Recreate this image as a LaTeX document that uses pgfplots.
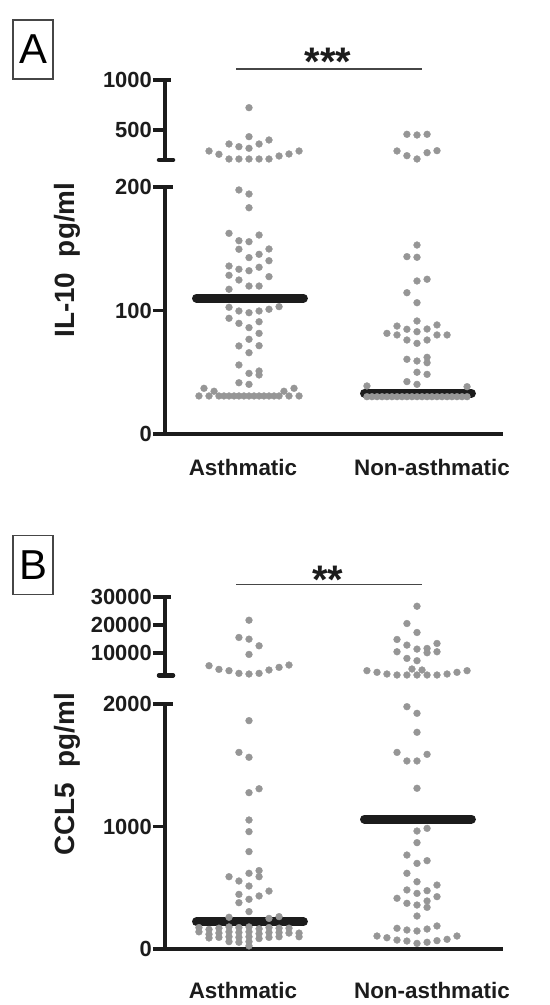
\documentclass[border=0pt]{standalone}
\usepackage{fontspec}
\setmainfont{Liberation Sans}
\usepackage{pgfplots}
\pgfplotsset{compat=1.18}
\definecolor{dotgray}{RGB}{150,150,150}
\definecolor{axblack}{RGB}{28,28,28}
\definecolor{boxgray}{RGB}{70,70,70}
\pgfplotsset{
  base/.style={
    x=168bp, xmin=0.5, xmax=2.51,
    anchor=south west,
    axis y line*=left,
    axis line style={-, line width=3.6bp, color=axblack},
    clip=false,
    tick align=outside,
    tick style={line width=3.6bp, color=axblack},
    major tick length=12bp,
    yticklabel style={font=\fontsize{22}{22}\selectfont\bfseries, inner sep=1bp, color=axblack},
    xticklabel style={font=\fontsize{22.5}{22.5}\selectfont\bfseries, color=axblack, anchor=base},
    x tick style={draw=none},
    /pgf/number format/assume math mode=true,
    scaled y ticks=false,
  },
  dots/.style={only marks, mark=*, mark size=3.4bp, color=dotgray, mark options={draw=none, fill=dotgray}},
  med/.style={line width=9bp, line cap=round, color=axblack, mark=none},
}
\begin{document}
\begin{tikzpicture}
\path[use as bounding box] (0,0) rectangle (550bp,1005bp);
% ---------- Panel letters ----------
\node[draw=boxgray, line width=1.2bp, minimum width=40bp, minimum height=59bp, inner sep=0pt,
      font=\fontsize{42}{42}\selectfont] at (33bp,955.5bp) {A};
\node[draw=boxgray, line width=1.2bp, minimum width=40bp, minimum height=59bp, inner sep=0pt,
      font=\fontsize{42}{42}\selectfont] at (33bp,440bp) {B};

% ================= Panel A, lower segment =================
\begin{axis}[base, at={(165bp,571bp)}, y=1.235bp, ymin=0, ymax=200,
  axis x line*=bottom,
  ytick={0,100,200}, yticklabels={0,100,200},
  xtick={0.964,2.089}, xticklabels={Asthmatic,Non-asthmatic},
  xticklabel style={yshift=-30bp},
  ylabel={IL-10\ \ pg/ml},
  ylabel style={at={(axis description cs:-0.29,0.704)}, anchor=center,
    font=\fontsize{28}{28}\selectfont\bfseries, color=axblack},
]
\addplot[dots] coordinates {
(0.940,197.6) (1.000,194.3) (1.000,183.2)
(0.881,162.5) (1.060,161.1) (0.940,156.5) (1.000,155.7)
(0.940,149.6) (1.119,149.8) (1.000,142.8) (1.060,145.5) (1.119,140.3)
(0.881,136.0) (0.940,133.4) (1.000,132.2) (1.060,135.0)
(0.881,128.5) (0.940,124.7) (1.000,119.8) (1.060,119.8) (1.119,127.4) (0.881,117.2)
(0.881,102.6) (0.940,99.6) (1.000,98.2) (1.060,99.6) (1.119,101.0) (1.179,103.1)
(0.881,93.7) (0.940,89.6) (1.000,86.1) (1.060,90.9) (1.060,81.5) (1.000,76.7)
(0.940,71.3) (1.060,71.5) (1.000,65.8) (0.940,55.9) (1.000,49.1) (1.060,51.0) (1.060,47.8)
(0.940,41.5) (1.000,40.2)
(0.702,30.8) (0.762,30.8) (0.821,30.8) (0.851,30.8) (0.881,30.8) (0.911,30.8) (0.940,30.8)
(0.970,30.8) (1.000,30.8) (1.030,30.8) (1.060,30.8) (1.089,30.8) (1.119,30.8) (1.149,30.8)
(1.179,30.8) (1.238,30.8) (1.298,30.8)
(0.732,37.0) (0.792,34.6) (1.208,34.6) (1.268,37.0)
};
\addplot[dots] coordinates {
(2.000,153.0) (1.940,143.6) (2.000,143.1) (2.000,123.9) (2.060,125.3) (1.940,114.4) (2.000,106.3)
(2.000,91.5) (1.881,87.4) (2.119,88.3) (1.821,81.5) (1.881,80.2) (1.940,84.8) (2.000,82.8)
(2.060,85.0) (2.119,80.2) (2.179,80.2)
(1.940,76.1) (2.000,73.4) (2.060,76.1)
(1.940,60.5) (2.000,59.1) (2.060,62.1) (2.060,57.7) (2.000,50.0) (2.060,48.3) (1.940,42.4) (2.000,40.2)
(1.702,38.9) (2.298,38.3)
(1.702,30.2) (1.732,30.2) (1.762,30.2) (1.792,30.2) (1.821,30.2) (1.851,30.2) (1.881,30.2)
(1.911,30.2) (1.940,30.2) (1.970,30.2) (2.000,30.2) (2.030,30.2) (2.060,30.2) (2.089,30.2)
(2.119,30.2) (2.149,30.2) (2.179,30.2) (2.208,30.2) (2.238,30.2) (2.268,30.2) (2.298,30.2)
};
\addplot[med] coordinates {(0.6875,110) (1.324,110)};
\addplot[med] coordinates {(1.6875,33) (2.324,33)};
\draw[line width=3.6bp, color=axblack] (axis cs:0.49,200) -- (axis cs:0.548,200);
\end{axis}

% ================= Panel A, upper segment =================
\begin{axis}[base, at={(165bp,845bp)}, y=0.1bp, ymin=200, ymax=1000,
  axis x line=none,
  ytick={500,1000}, yticklabels={500,1000},
]
\addplot[dots] coordinates {
(1.000,723) (1.000,433) (1.119,400) (0.881,360) (0.940,333) (1.000,317) (1.060,360)
(0.762,290) (0.821,257) (0.881,210) (0.940,210) (1.000,210) (1.060,210) (1.119,210)
(1.179,240) (1.238,260) (1.298,290)
};
\addplot[dots] coordinates {
(1.940,457) (2.000,450) (2.060,457) (1.881,290) (1.940,243) (2.000,210) (2.060,273) (2.119,293)
};
\draw[line width=4.4bp, line cap=round, color=axblack] (axis cs:0.464,200) -- (axis cs:0.548,200);
\draw[line width=3.6bp, color=axblack] (axis cs:0.49,1000) -- (axis cs:0.536,1000);
\draw[line width=1.4bp, color=boxgray] (axis cs:0.923,1110) -- (axis cs:2.03,1110);
\node[anchor=base, font=\fontsize{40}{40}\selectfont\bfseries, color=axblack, inner sep=0pt]
  at (axis cs:1.470,1045) {***};
\end{axis}

% ================= Panel B, lower segment =================
\begin{axis}[base, at={(165bp,56bp)}, y=0.1225bp, ymin=0, ymax=2000,
  axis x line*=bottom,
  ytick={0,1000,2000}, yticklabels={0,1000,2000},
  xtick={0.964,2.089}, xticklabels={Asthmatic,Non-asthmatic},
  xticklabel style={yshift=-37.5bp},
  ylabel={CCL5\ \ pg/ml},
  ylabel style={at={(axis description cs:-0.29,0.713)}, anchor=center,
    font=\fontsize{28}{28}\selectfont\bfseries, color=axblack},
]
\addplot[dots] coordinates {
(1.000,1864) (0.940,1605) (1.000,1565) (1.000,1276) (1.060,1308)
(1.000,1053) (1.000,958) (1.000,795)
(0.881,590) (0.940,555) (1.000,618) (1.060,640) (1.060,590)
(1.000,514) (0.940,446) (1.000,406) (1.060,433) (1.119,473) (0.940,378) (1.000,305)
(0.881,259) (1.119,250) (1.179,264)
(0.702,175) (0.702,140)
(0.762,160) (0.762,120) (0.762,90)
(0.821,170) (0.821,130) (0.821,95)
(0.881,180) (0.881,140) (0.881,100) (0.881,60)
(0.940,175) (0.940,135) (0.940,95) (0.940,55)
(1.000,180) (1.000,140) (1.000,100) (1.000,60) (1.000,25)
(1.060,165) (1.060,125) (1.060,85)
(1.119,175) (1.119,135) (1.119,95)
(1.179,170) (1.179,135) (1.179,100)
(1.238,170) (1.238,130)
(1.298,130) (1.298,100)
};
\addplot[dots] coordinates {
(1.940,1978) (2.000,1924) (2.000,1769) (1.881,1605) (1.940,1535) (2.000,1535) (2.060,1589) (2.000,1312)
(2.000,963) (2.060,985) (2.000,868) (1.940,767) (2.000,699) (2.060,721) (1.940,618) (2.000,549)
(1.940,482) (2.000,454) (2.060,476) (2.119,522) (1.881,414) (1.940,373) (2.000,359) (2.060,392)
(2.060,340) (2.119,427) (2.000,269)
(1.881,169) (1.940,155) (2.000,147) (2.060,163) (2.119,188)
(1.762,106) (1.821,92) (1.881,73) (1.940,65) (2.000,46) (2.060,55) (2.119,68) (2.179,79) (2.238,106)
};
\addplot[med] coordinates {(0.6875,223) (1.324,223)};
\addplot[med] coordinates {(1.6875,1061) (2.324,1061)};
\draw[line width=3.6bp, color=axblack] (axis cs:0.49,2000) -- (axis cs:0.548,2000);
\end{axis}

% ================= Panel B, upper segment =================
\begin{axis}[base, at={(165bp,329.6bp)}, y=0.0028bp, ymin=2000, ymax=30000,
  axis x line=none,
  ytick={10000,20000,30000}, yticklabels={10000,20000,30000},
]
\addplot[dots] coordinates {
(1.000,21786) (0.940,15595) (1.000,15000) (1.060,12607) (1.000,9524)
(0.762,5476) (0.821,4167) (0.881,3690) (0.940,2738) (1.000,2500) (1.060,2738)
(1.119,3929) (1.179,4881) (1.238,5714)
};
\addplot[dots] coordinates {
(2.000,26786) (1.940,20595) (2.000,17381) (1.881,14881) (1.940,12857) (2.000,11429)
(2.060,11667) (2.060,10119) (2.119,13452) (2.119,10476) (1.881,10476) (1.940,8095)
(2.000,7262) (1.970,4286) (2.030,3929)
(1.702,3690) (1.762,3107) (1.821,2500) (1.881,2143) (1.940,2143) (2.000,2143) (2.060,2143)
(2.119,2143) (2.179,2500) (2.238,3107) (2.298,3690)
};
\draw[line width=4.4bp, line cap=round, color=axblack] (axis cs:0.464,2000) -- (axis cs:0.548,2000);
\draw[line width=3.6bp, color=axblack] (axis cs:0.49,30000) -- (axis cs:0.536,30000);
\draw[line width=1.4bp, color=boxgray] (axis cs:0.923,34643) -- (axis cs:2.03,34643);
\node[anchor=base, font=\fontsize{40}{40}\selectfont\bfseries, color=axblack, inner sep=0pt]
  at (axis cs:1.470,31300) {**};
\end{axis}
\end{tikzpicture}
\end{document}
